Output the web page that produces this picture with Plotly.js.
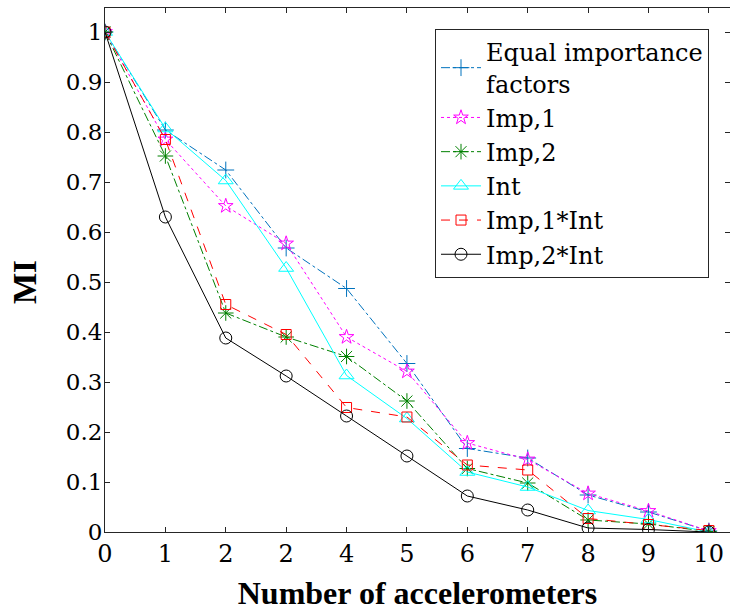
<!DOCTYPE html>
<html>
<head>
<meta charset="utf-8">
<script src="https://cdn.plot.ly/plotly-3.0.1.min.js"></script>
<style>html,body{margin:0;padding:0;background:#fff;}#chart{width:730px;height:616px;}</style>
</head>
<body>
<div id="chart"></div>
<script>
// Data
const xValues = [0, 1, 2, 3, 4, 5, 6, 7, 8, 9, 10];
const xTickText = ['0', '1', '2', '2', '4', '5', '6', '7', '8', '9', '10'];
const yTickVals = [0, 0.1, 0.2, 0.3, 0.4, 0.5, 0.6, 0.7, 0.8, 0.9, 1];
const yTickText = ['0', '0.1', '0.2', '0.3', '0.4', '0.5', '0.6', '0.7', '0.8', '0.9', '1'];

const seriesNames = ['Equal importance<br>factors', 'Imp,1', 'Imp,2', 'Int', 'Imp,1*Int', 'Imp,2*Int'];
const equalImportance = [1, 0.804, 0.724, 0.568, 0.487, 0.337, 0.167, 0.148, 0.074, 0.040, 0.002];
const imp1 = [1, 0.785, 0.652, 0.577, 0.390, 0.321, 0.178, 0.145, 0.077, 0.042, 0.002];
const imp2 = [1, 0.752, 0.438, 0.390, 0.351, 0.262, 0.127, 0.098, 0.024, 0.016, 0.001];
const intOnly = [1, 0.807, 0.703, 0.528, 0.313, 0.227, 0.120, 0.090, 0.043, 0.025, 0.000];
const imp1Int = [1, 0.785, 0.455, 0.395, 0.249, 0.230, 0.134, 0.124, 0.027, 0.015, 0.003];
const imp2Int = [1, 0.630, 0.388, 0.312, 0.232, 0.152, 0.072, 0.044, 0.008, 0.005, 0.000];

const allSeries = [equalImportance, imp1, imp2, intOnly, imp1Int, imp2Int];
const styles = [
  {color: '#0072BD', dash: 'dashdot', symbol: 'cross-thin-open', size: 12},
  {color: '#FF00FF', dash: 'dot', symbol: 'star-open', size: 11},
  {color: '#008000', dash: 'dashdot', symbol: 'asterisk-open', size: 13},
  {color: '#00FFFF', dash: 'solid', symbol: 'triangle-up-open', size: 13},
  {color: '#FF0000', dash: 'dash', symbol: 'square-open', size: 10},
  {color: '#000000', dash: 'solid', symbol: 'circle-open', size: 12}
];

const traces = allSeries.map((ys, i) => ({
  x: xValues,
  y: ys,
  name: seriesNames[i],
  type: 'scatter',
  mode: 'lines+markers',
  line: {color: styles[i].color, dash: styles[i].dash, width: 1},
  marker: {symbol: styles[i].symbol, size: styles[i].size, color: styles[i].color,
           line: {color: styles[i].color, width: 1}}
}));

const font = 'DejaVu Serif';
const titleFont = 'Liberation Serif';
const axisColor = '#262626';
const textColor = '#000000';

const layout = {
  width: 730, height: 616,
  margin: {l: 105, r: 0, t: 8, b: 84},
  paper_bgcolor: '#ffffff', plot_bgcolor: '#ffffff',
  font: {family: font, color: textColor, size: 23},
  showlegend: true,
  legend: {
    x: 0.528, y: 0.96, xanchor: 'left', yanchor: 'top',
    bordercolor: axisColor, borderwidth: 1, bgcolor: '#ffffff',
    font: {family: font, size: 24, color: textColor},
    itemwidth: 40, tracegroupgap: 0
  },
  xaxis: {
    range: [0, 10.35], tickmode: 'array', tickvals: xValues, ticktext: xTickText,
    ticks: 'inside', ticklen: 5, tickcolor: axisColor, tickwidth: 1,
    showline: true, linecolor: axisColor, linewidth: 1, mirror: 'ticks',
    showgrid: false, zeroline: false,
    tickfont: {family: font, size: 24, color: textColor},
    title: {text: '<b>Number of accelerometers</b>', font: {family: titleFont, size: 32, color: '#000000'}, standoff: 14}
  },
  yaxis: {
    range: [0, 1.048], tickmode: 'array', tickvals: yTickVals, ticktext: yTickText,
    ticks: 'inside', ticklen: 5, tickcolor: axisColor, tickwidth: 1,
    showline: true, linecolor: axisColor, linewidth: 1, mirror: 'ticks',
    showgrid: false, zeroline: false, ticklabelstandoff: -3,
    tickfont: {family: font, size: 23, color: textColor}
  },
  annotations: [{
    text: '<b>MI</b>', textangle: -90, showarrow: false,
    xref: 'paper', yref: 'paper', x: -0.128, y: 0.477, xanchor: 'center', yanchor: 'middle',
    font: {family: titleFont, size: 33, color: '#000000'}
  }]
};

Plotly.newPlot('chart', traces, layout, {displayModeBar: false, staticPlot: true});
</script>
</body>
</html>
